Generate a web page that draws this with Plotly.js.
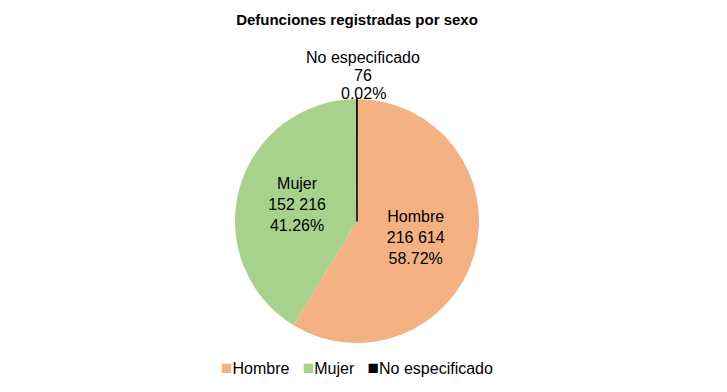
<!DOCTYPE html>
<html><head><meta charset="utf-8">
<script src="https://cdn.plot.ly/plotly-3.0.1.min.js"></script>
<style>html,body{margin:0;padding:0;background:#fff}</style>
</head><body><div id="chart" style="width:727px;height:392px"></div>
<script>
const categories = ["Hombre", "Mujer", "No especificado"];
const values = [216614, 152216, 76];
const colors = ["#F4B183", "#A9D18E", "#000000"];

const FONT = "Liberation Sans, Arial, sans-serif";
function fmt(n){ return String(n).replace(/\B(?=(\d{3})+(?!\d))/g, " "); }
const total = values.reduce((a,b)=>a+b,0);
const pcts = values.map(v => (100*v/total).toFixed(2) + "%");

const trace = {
  type: "pie",
  labels: categories,
  values: values,
  customdata: values.map(fmt),
  sort: false,
  direction: "clockwise",
  rotation: 0,
  marker: {colors: colors, line: {color: ["rgba(0,0,0,0)","rgba(0,0,0,0)","#000"], width: [0,0,1.5]}},
  texttemplate: "%{label}<br>%{customdata}<br>%{percent:.2%}",
  textposition: ["inside","inside","none"],
  insidetextorientation: "horizontal",
  textfont: {family: FONT, size: 16, color: "#000"},
  domain: {x: [0.3232, 0.6589], y: [0.125, 0.7474]},
  hoverinfo: "none",
  showlegend: false
};

// outside label for the small slice, one annotation per line
const outLines = [categories[2], fmt(values[2]), pcts[2]];
const outY = [57, 75, 93];
const annotations = outLines.map((t, i) => ({
  text: t, xref: "paper", yref: "paper", x: 363/727, y: 1 - outY[i]/392,
  xanchor: "center", yanchor: "middle", showarrow: false,
  font: {family: FONT, size: 16, color: "#000"}
}));

// legend row
const legendText = categories.map((c, i) =>
  '<span style="color:' + colors[i] + ';font-size:19px">■</span>' + c).join("&nbsp;&nbsp;&nbsp;");
annotations.push({
  text: legendText, xref: "paper", yref: "paper", x: 357/727, y: 1 - 367/392,
  xanchor: "center", yanchor: "middle", showarrow: false,
  font: {family: FONT, size: 16, color: "#000"}
});

const layout = {
  width: 727, height: 392,
  margin: {l:0, r:0, t:0, b:0},
  paper_bgcolor: "#fff",
  title: {text: "<b>Defunciones registradas por sexo</b>", x: 357/727, xanchor: "center", y: 1 - 20/392, yanchor: "middle",
          font: {family: FONT, size: 15, color: "#000"}},
  showlegend: false,
  annotations: annotations
};

Plotly.newPlot("chart", [trace], layout, {displayModeBar: false, staticPlot: true});
</script></body></html>
